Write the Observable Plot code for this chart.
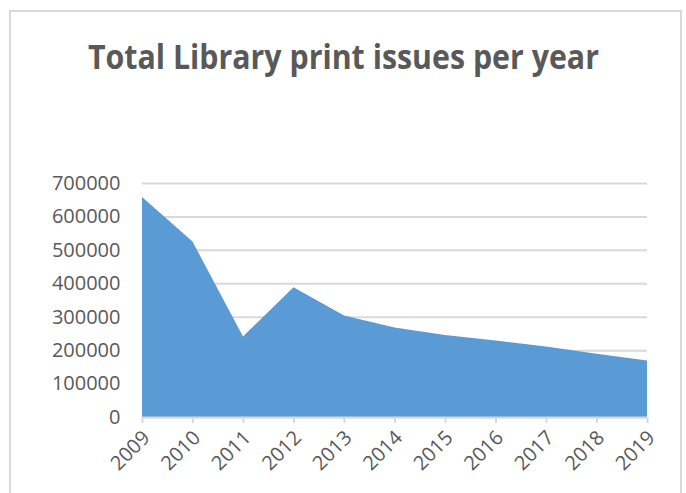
<!DOCTYPE html>
<html>
<head>
<meta charset="utf-8">
<script src="https://cdn.jsdelivr.net/npm/d3@7"></script>
<script src="https://cdn.jsdelivr.net/npm/@observablehq/plot@0.6"></script>
<style>
  html, body { margin: 0; padding: 0; background: #fff; }
  #wrap { position: relative; width: 686px; height: 493px; overflow: hidden; background: #fff; }
  #frame { position: absolute; left: 9px; top: 10px; width: 673px; height: 520px; border: 2px solid #d9d9d9; box-sizing: border-box; }
  #title { position: absolute; left: 0; top: 34px; width: 686px; text-align: center; white-space: nowrap;
           font-family: "Open Sans", sans-serif; font-weight: bold; font-size: 34px; color: #595959; line-height: 44px; }
  #title span { display: inline-block; transform-origin: center; }
  #chart { position: absolute; left: 0; top: 0; }
</style>
</head>
<body>
<div id="wrap">
  <div id="frame"></div>
  <div id="title"><span>Total Library print issues per year</span></div>
  <div id="chart"></div>
</div>
<script>
const years = [2009, 2010, 2011, 2012, 2013, 2014, 2015, 2016, 2017, 2018, 2019];
const printIssues = [658000, 525000, 241000, 388000, 304000, 268000, 245000, 229000, 211000, 189000, 169000];
const yTicks = [0, 100000, 200000, 300000, 400000, 500000, 600000, 700000];

const data = years.map((year, i) => ({year, value: printIssues[i]}));

const plot = Plot.plot({
  width: 686,
  height: 493,
  marginLeft: 142,
  marginRight: 39,
  marginTop: 183,
  marginBottom: 76,
  style: { fontFamily: "Open Sans, sans-serif", fontSize: "20px", color: "#595959", background: "transparent", overflow: "visible" },
  x: { type: "linear", domain: [2009, 2019] },
  y: { domain: [0, 700000] },
  marks: [
    Plot.gridY(yTicks, { stroke: "#d9d9d9", strokeOpacity: 1, strokeWidth: 2 }),
    Plot.areaY(data, { x: "year", y: "value", fill: "#5b9bd5", fillOpacity: 1 }),
    Plot.ruleY([0], { stroke: "#d9d9d9", strokeWidth: 2 }),
    Plot.axisY(yTicks, { tickSize: 0, tickPadding: 22, tickFormat: d => String(d), label: null, fill: "#595959" }),
    Plot.axisX(years, { tickSize: 6, stroke: "#d9d9d9", strokeWidth: 2, tickFormat: () => "", label: null }),
    Plot.axisX(years, { tickSize: 0, tickRotate: -45, tickPadding: 10, dx: 4, dy: 7, tickFormat: d => String(d), label: null, fill: "#595959" })
  ]
});
document.getElementById("chart").appendChild(plot);

const span = document.querySelector("#title span");
const w = span.getBoundingClientRect().width;
span.style.transform = `scaleX(${511 / w})`;
</script>
</body>
</html>
